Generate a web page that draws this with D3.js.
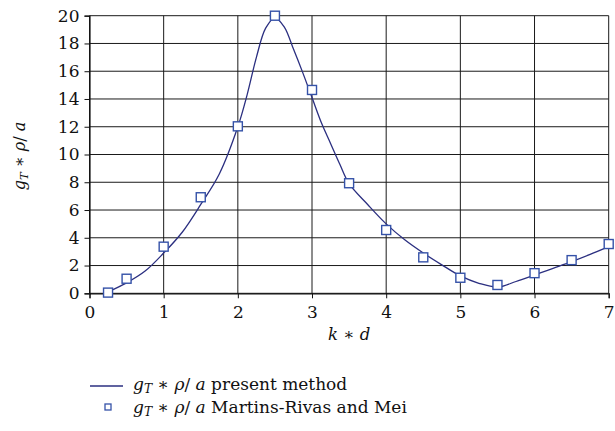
<!DOCTYPE html>
<html><head><meta charset="utf-8">
<script src="https://cdn.jsdelivr.net/npm/d3@7"></script>
<style>
body{margin:0;background:#fff;}
svg text{font-family:"DejaVu Serif","Liberation Serif",serif !important;fill:#111;}
</style></head>
<body><svg id="c" width="615" height="431"></svg>
<script>
// Data
const markerX = [0.25,0.5,1,1.5,2,2.5,3,3.5,4,4.5,5,5.5,6,6.5,7];
const markerY = [0.05,1.05,3.36,6.92,12.03,20,14.65,7.93,4.56,2.59,1.12,0.6,1.45,2.39,3.55];
const curveX = [0.25,0.5,0.75,1,1.25,1.5,1.75,2,2.125,2.25,2.375,2.5,2.625,2.75,2.875,3,3.125,3.25,3.375,3.5,3.75,4,4.25,4.5,4.75,5,5.25,5.5,5.75,6,6.25,6.5,6.75,7];
const curveY = [0.1,0.75,1.6,2.9,4.4,6.4,8.6,12.0,14.3,17.0,19.1,19.85,19.2,17.6,15.9,14.1,12.3,10.8,9.3,7.9,6.4,5.0,3.85,2.9,2.05,1.25,0.72,0.45,0.85,1.32,1.8,2.28,2.8,3.36];
const xTicks = [0,1,2,3,4,5,6,7];
const yTicks = [0,2,4,6,8,10,12,14,16,18,20];

const svg = d3.select("#c");
const x = d3.scaleLinear().domain([0,7]).range([89.5,608.7]);
const y = d3.scaleLinear().domain([0,20]).range([293.3,15.7]);

const g = svg.append("g");
g.selectAll(".hg").data(yTicks).join("line")
  .attr("x1",x(0)).attr("x2",x(7)).attr("y1",d=>y(d)).attr("y2",d=>y(d))
  .attr("stroke","#1a1a1a").attr("stroke-width",1);
g.selectAll(".vg").data(xTicks).join("line")
  .attr("y1",y(0)).attr("y2",y(20)).attr("x1",d=>x(d)).attr("x2",d=>x(d))
  .attr("stroke","#1a1a1a").attr("stroke-width",1);

const xAxis = d3.axisBottom(x).tickValues(xTicks).tickSize(5).tickPadding(4).tickFormat(d3.format("d"));
const yAxis = d3.axisLeft(y).tickValues(yTicks).tickSize(5).tickPadding(5).tickFormat(d3.format("d"));
const gx = svg.append("g").attr("transform",`translate(0,${y(0)})`).call(xAxis);
const gy = svg.append("g").attr("transform",`translate(${x(0)},0)`).call(yAxis);
[gx,gy].forEach(a=>{
  a.attr("font-family",null);
  a.select(".domain").attr("stroke","#111").attr("stroke-width",1.2);
  a.selectAll(".tick line").attr("stroke","#111").attr("stroke-width",1);
  a.selectAll(".tick text").attr("font-size",17).attr("fill","#111");
});
gx.selectAll(".tick text").attr("dy","0.95em");

const line = d3.line().x((d,i)=>x(curveX[i])).y(d=>y(d)).curve(d3.curveCatmullRom.alpha(0.5));
svg.append("path").datum(curveY).attr("d",line).attr("fill","none")
  .attr("stroke","#2b2f80").attr("stroke-width",1.3);

const ms = 9;
svg.selectAll(".m").data(markerY).join("rect")
  .attr("x",(d,i)=>x(markerX[i])-ms/2).attr("y",d=>y(d)-ms/2)
  .attr("width",ms).attr("height",ms).attr("fill","#fff")
  .attr("stroke","#3552a8").attr("stroke-width",1.4);

function label(sel, suffix){
  sel.append("tspan").attr("font-style","italic").text("g");
  sel.append("tspan").attr("font-style","italic").attr("font-size","0.72em").attr("dy","0.25em").text("T");
  sel.append("tspan").attr("dy","-0.18em").text(" \u2217 ");
  sel.append("tspan").attr("font-style","italic").text("\u03C1");
  sel.append("tspan").text("/");
  sel.append("tspan").attr("font-style","italic").text(" a");
  if(suffix) sel.append("tspan").text(suffix);
}
const yl = svg.append("text").attr("transform","translate(25,156) rotate(-90)")
  .attr("text-anchor","middle").attr("font-size",16);
label(yl,"");

const xl = svg.append("text").attr("x",x(3.5)).attr("y",340).attr("text-anchor","middle").attr("font-size",16.5);
xl.append("tspan").attr("font-style","italic").text("k");
xl.append("tspan").text(" \u2217 ");
xl.append("tspan").attr("font-style","italic").text("d");

svg.append("line").attr("x1",90).attr("x2",123).attr("y1",386).attr("y2",386)
  .attr("stroke","#2b2f80").attr("stroke-width",1.3);
const l1 = svg.append("text").attr("x",133).attr("y",390).attr("font-size",17);
label(l1," present method");
svg.append("rect").attr("x",105).attr("y",404).attr("width",6).attr("height",6)
  .attr("fill","#fff").attr("stroke","#3552a8").attr("stroke-width",1.3);
const l2 = svg.append("text").attr("x",133).attr("y",413).attr("font-size",17);
label(l2," Martins-Rivas and Mei");
</script></body></html>
